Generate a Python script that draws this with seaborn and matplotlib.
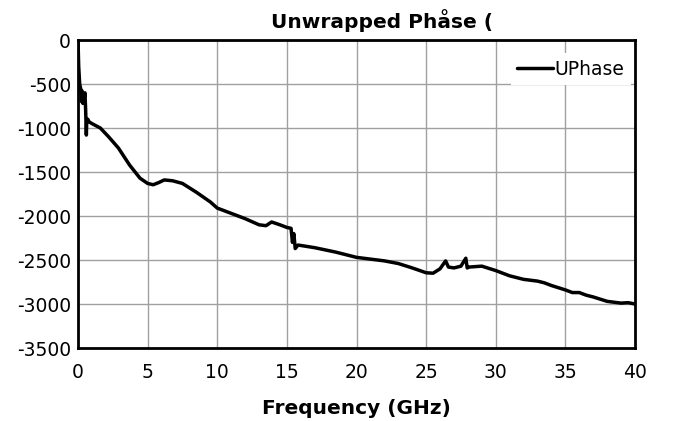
import matplotlib
matplotlib.use("Agg")
import matplotlib.pyplot as plt
import seaborn as sns
import pandas as pd

freq = [0.0, 0.05, 0.12, 0.2, 0.25, 0.3, 0.35, 0.4, 0.45, 0.5, 0.55, 0.6, 0.63, 0.7, 0.8,
        1.0, 1.6, 2.2, 2.9, 3.7, 4.45, 5.0, 5.4, 5.8, 6.2, 6.8, 7.5, 8.5, 9.5, 10.0,
        11.0, 12.0, 13.0, 13.5, 13.9, 14.5, 15.0, 15.3, 15.4, 15.5, 15.6, 15.8, 17.0,
        18.5, 20.0, 22.0, 23.0, 24.0, 25.0, 25.5, 26.0, 26.4, 26.6, 27.0, 27.5,
        27.85, 27.95, 28.1, 29.0, 30.0, 31.0, 32.0, 32.5, 33.0, 33.5, 34.0, 35.0,
        35.5, 36.0, 36.5, 37.0, 38.0, 38.5, 39.0, 39.5, 40.0]
uphase = [0, -300, -500, -560, -700, -580, -720, -620, -650, -600, -800, -1080, -900, -900, -930,
          -950, -1000, -1100, -1227, -1420, -1570, -1630, -1645, -1620, -1590, -1600, -1630, -1730, -1840, -1910,
          -1970, -2030, -2100, -2110, -2068, -2100, -2130, -2140, -2300, -2200, -2370, -2330, -2360,
          -2410, -2470, -2510, -2540, -2590, -2645, -2650, -2600, -2510, -2580, -2590, -2570,
          -2480, -2590, -2580, -2570, -2620, -2680, -2720, -2730, -2740, -2760, -2790, -2840,
          -2870, -2870, -2900, -2920, -2970, -2980, -2990, -2985, -3000]

df = pd.DataFrame({"Frequency": freq, "UPhase": uphase})

sns.set_style("white")
plt.rcParams["font.family"] = ["DejaVu Sans"]
plt.rcParams["axes.unicode_minus"] = False
plt.rcParams["text.color"] = "black"
plt.rcParams["xtick.color"] = "black"
plt.rcParams["ytick.color"] = "black"
plt.rcParams["axes.labelcolor"] = "black"

fig = plt.figure(figsize=(6.73, 4.21), dpi=100)
ax = fig.add_axes([78 / 673, 1 - 348 / 421, (635 - 78) / 673, (348 - 40) / 421])

sns.lineplot(data=df, x="Frequency", y="UPhase", ax=ax, color="black", linewidth=2.5,
             label="UPhase", sort=False)

ax.set_xlim(0, 40)
ax.set_ylim(-3500, 0)
ax.set_xticks(range(0, 41, 5))
ax.set_yticks(range(-3500, 1, 500))
ax.grid(True, color="#a0a0a0", linewidth=1.0)
ax.tick_params(axis="both", length=0, labelsize=13.5, colors="black")
ax.tick_params(axis="y", pad=5)
ax.tick_params(axis="x", pad=11)
for s in ax.spines.values():
    s.set_color("black")
    s.set_linewidth(2)
ax.set_xlabel("Frequency (GHz)", fontsize=14.5, fontweight="bold", labelpad=12, color="black")
ax.set_ylabel("")

leg = ax.legend(loc="upper right", frameon=True, fontsize=13.5, handlelength=1.9,
                handletextpad=0.1, borderpad=0.35, bbox_to_anchor=(1.0, 0.97),
                fancybox=False, framealpha=1.0, borderaxespad=0.2)
leg.get_frame().set_edgecolor("white")
leg.get_frame().set_linewidth(0)
for t in leg.get_texts():
    t.set_color("black")

fig.text(382 / 673, 1 - 23 / 421, "Unwrapped Phase (", ha="center", va="center",
         fontsize=14.5, fontweight="bold", color="black")
fig.text(444 / 673, 1 - 19 / 421, "°", ha="center", va="center", fontsize=13,
         fontweight="bold", color="black")

fig.savefig("out.png", dpi=100)
